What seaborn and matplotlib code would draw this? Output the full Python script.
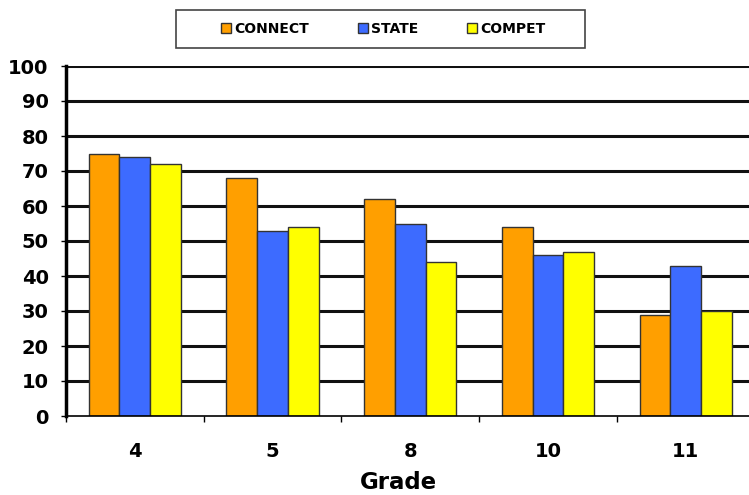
import matplotlib
matplotlib.use("Agg")
import matplotlib.pyplot as plt
import seaborn as sns
import pandas as pd
from matplotlib.patches import Patch, Rectangle
from matplotlib.ticker import FixedLocator

grades = ["4", "5", "8", "10", "11"]
connect = [75, 68, 62, 54, 29]
state = [74, 53, 55, 46, 43]
compet = [72, 54, 44, 47, 30]
series = ["CONNECT", "STATE", "COMPET"]
colors = ["#FF9F00", "#3D6BFF", "#FFFF00"]
y_ticks = list(range(0, 101, 10))

df = pd.DataFrame({
    "Grade": grades * 3,
    "Series": [s for s in series for _ in grades],
    "Value": connect + state + compet,
})

sns.set_style("white")
plt.rcParams["font.family"] = ["DejaVu Sans"]
plt.rcParams["font.weight"] = "bold"
plt.rcParams["text.color"] = "black"
plt.rcParams["xtick.labelcolor"] = "black"
plt.rcParams["ytick.labelcolor"] = "black"
plt.rcParams["axes.labelcolor"] = "black"

W, H = 749, 495
fig = plt.figure(figsize=(W / 100, H / 100), dpi=100)
ax = fig.add_axes([66 / W, 1 - 416 / H, (754.5 - 66) / W, 350 / H])

sns.barplot(data=df, x="Grade", y="Value", hue="Series", order=grades,
            hue_order=series, palette=colors, width=0.67, ax=ax,
            edgecolor="#333333", linewidth=1.0, saturation=1, legend=False)

ax.set_ylim(0, 100)
ax.set_xlim(-0.5, 4.5)
ax.set_yticks(y_ticks)
for y in y_ticks[1:]:
    ax.axhline(y, color="#111111", lw=2.2, zorder=0)

for side in ["top", "right"]:
    ax.spines[side].set_visible(False)
ax.spines["left"].set_linewidth(2.5)
ax.spines["left"].set_color("black")
ax.spines["bottom"].set_linewidth(1.2)
ax.spines["bottom"].set_color("black")

ax.tick_params(axis="y", direction="out", length=3.5, width=1, color="black",
               labelsize=14, pad=9, left=True, labelcolor="black")
ax.tick_params(axis="x", which="major", length=0, labelsize=14, pad=19,
               labelcolor="black")
ax.xaxis.set_minor_locator(FixedLocator([i - 0.5 for i in range(len(grades) + 1)]))
ax.tick_params(axis="x", which="minor", direction="out", length=4.5, width=1,
               color="black", bottom=True)
for lbl in ax.get_xticklabels() + ax.get_yticklabels():
    lbl.set_fontweight("bold")

ax.set_xlabel("Grade", fontsize=16.5, fontweight="bold", color="black")
ax.xaxis.set_label_coords((398 - 66) / 688.5, -0.157)
ax.set_ylabel("")

# legend box drawn separately so its padding can be wider than tall
fig.patches.append(Rectangle((176 / W, 1 - 48 / H), (585 - 176) / W, 38 / H,
                             transform=fig.transFigure, facecolor="white",
                             edgecolor="#444444", linewidth=1.2))
handles = [Patch(facecolor=c, edgecolor="#333333", linewidth=1.0) for c in colors]
fig.legend(handles, series, loc="center", ncol=3,
           bbox_to_anchor=(383.5 / W, 1 - 29 / H),
           frameon=False, handlelength=0.72, handleheight=0.72,
           handletextpad=0.25, columnspacing=3.5, borderpad=0.2,
           labelcolor="black",
           prop={"weight": "bold", "size": 10})

fig.savefig("out.png", dpi=100)
